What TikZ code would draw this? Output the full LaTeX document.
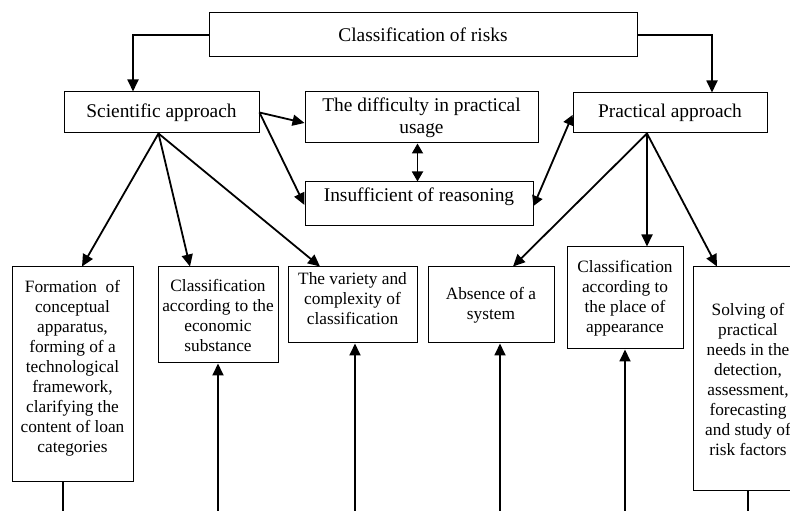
\documentclass[tikz,border=0pt]{standalone}
\usepackage{fontspec}
\setmainfont{Liberation Serif}
\usetikzlibrary{positioning,calc,arrows.meta}

\begin{document}
\begin{tikzpicture}[x=1pt, y=1pt,
  bigbox/.style={draw, line width=1pt, inner sep=2pt, align=center, font=\fontsize{19.4}{22}\selectfont},
  smallbox/.style={draw, line width=1pt, inner sep=2pt, align=center, font=\fontsize{17.3}{20}\selectfont},
  arr/.style={line width=1.8pt, -{Triangle[length=12pt,width=11pt]}},
  darr/.style={line width=1.8pt, {Triangle[length=10pt,width=11pt]}-{Triangle[length=10pt,width=11pt]}},
  plainline/.style={line width=1.8pt},
]
\useasboundingbox (0,0) rectangle (790,511);
\clip (0,0) rectangle (790,511);

% Top level
\node[bigbox, minimum width=428, minimum height=44] (top) at (423,476) {Classification of risks};
\node[bigbox, minimum width=195, minimum height=41] (sci) at (161.5,398.5) {Scientific approach};
\node[bigbox, minimum width=194, minimum height=40] (prac) at (670,398) {Practical approach};
\node[bigbox, minimum width=233, minimum height=51] (diff) at (421.5,393.5) {The difficulty in practical\\usage};
\node[bigbox, minimum width=228, minimum height=44, text depth=18pt] (insuf) at (419,307) {Insufficient of reasoning};

% Bottom row
\node[smallbox, minimum width=121, minimum height=215] (form) at (72.5,136.5)
  {Formation~ of\\conceptual\\apparatus,\\forming of a\\technological\\framework,\\clarifying the\\content of loan\\categories\\[-4pt]\mbox{}};
\node[smallbox, minimum width=120, minimum height=96] (econ) at (218,196)
  {Classification\\according to the\\economic\\substance};
\node[smallbox, minimum width=129, minimum height=76] (var) at (352.5,206)
  {The variety and\\complexity of\\classification\\[-8pt]\mbox{}};
\node[smallbox, minimum width=126, minimum height=76] (abs) at (491,206)
  {Absence of a\\system};
\node[smallbox, minimum width=116, minimum height=102] (place) at (625,213)
  {Classification\\according to\\the place of\\appearance};
\node[smallbox, minimum width=110, minimum height=224] (solv) at (748,132)
  {Solving of\\practical\\needs in the\\detection,\\assessment,\\forecasting\\and study of\\risk factors};

\coordinate (bot) at (0,-2);
\coordinate (sb) at ([xshift=-3pt]sci.south);
\coordinate (pb) at ([xshift=-23pt]prac.south);

% From the root
\draw[arr] (top.west) -| ([xshift=-28.5pt]sci.north);
\draw[arr] (top.east) -| ([xshift=42pt]prac.north);

% Scientific branch
\draw[arr] (sb) -- ([xshift=9.5pt]form.north);
\draw[arr] (sb) -- ([xshift=-28pt]econ.north);
\draw[arr] (sb) -- ([xshift=-32.5pt]var.north);
\draw[arr] (sci.east) -- ([yshift=-5.5pt]diff.west);
\draw[arr] (sci.east) -- ([yshift=-1pt]insuf.west);

% Middle
\draw[darr] ([xshift=-4pt]diff.south) -- ([xshift=-4pt]diff.south |- insuf.north);
\draw[darr] ([yshift=-2pt]insuf.east) -- ([yshift=-2pt]prac.west);

% Practical branch
\draw[arr] (pb) -- ([xshift=22pt]abs.north);
\draw[arr] (pb) -- ([xshift=22pt]place.north);
\draw[arr] (pb) -- ([xshift=-31pt]solv.north);

% Lines from the bottom edge
\draw[plainline] ([xshift=-9.5pt]form.south) -- ([xshift=-9.5pt]form.south |- bot);
\draw[plainline] (solv.south) -- (solv.south |- bot);
\foreach \n/\s in {econ/0,var/2.5,abs/9,place/0} {
  \draw[arr] ([xshift=\s pt]\n.south |- bot) -- ([xshift=\s pt]\n.south);
}
\end{tikzpicture}
\end{document}
